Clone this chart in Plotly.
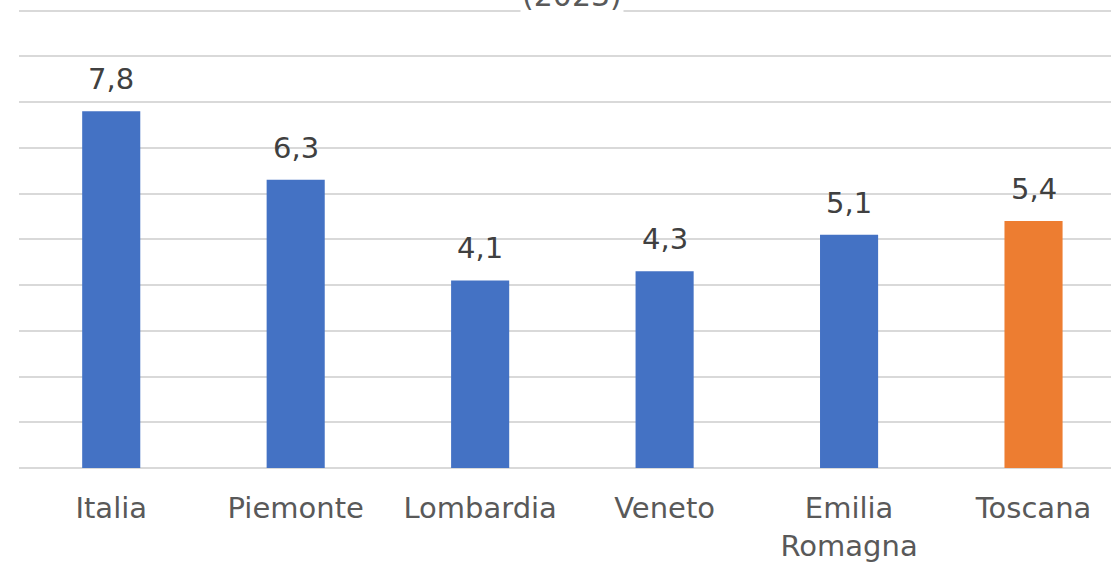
import plotly.graph_objects as go

# ================= DATA =================
regioni = ["Italia", "Piemonte", "Lombardia", "Veneto", "Emilia<br>Romagna", "Toscana"]
valori = [7.8, 6.3, 4.1, 4.3, 5.1, 5.4]
colori = ["#4472C4", "#4472C4", "#4472C4", "#4472C4", "#4472C4", "#ED7D31"]
titolo = "(2023)"

FONT = "DejaVu Sans"
GREY = "#595959"

fig = go.Figure()

fig.add_trace(
    go.Bar(
        x=regioni,
        y=valori,
        marker=dict(color=colori, line=dict(width=0)),
        width=0.315,
        hoverinfo="x+y",
    )
)

# data labels above the bars
for r, v in zip(regioni, valori):
    fig.add_annotation(
        x=r, y=v,
        text=f"{v:.1f}".replace(".", ","),
        showarrow=False,
        yanchor="bottom",
        yshift=13,
        font=dict(family=FONT, size=29, color="#404040"),
    )

# title, cut at the top edge
fig.add_annotation(
    x=0.506, y=1, xref="paper", yref="paper",
    text=titolo,
    showarrow=False,
    xanchor="center", yanchor="bottom",
    yshift=-15,
    bgcolor="white",
    font=dict(family=FONT, size=30, color=GREY),
)

fig.update_layout(
    width=1111,
    height=564,
    paper_bgcolor="white",
    plot_bgcolor="white",
    margin=dict(l=19, r=0, t=0, b=96),
    showlegend=False,
    separators=",.",
    xaxis=dict(
        range=[-0.5, 5.42],
        showgrid=False,
        ticks="",
        ticklabelstandoff=20,
        tickfont=dict(family=FONT, size=29, color=GREY),
        showline=False,
    ),
    yaxis=dict(
        range=[0, 10.23],
        dtick=1,
        showticklabels=False,
        gridcolor="#D9D9D9",
        gridwidth=2,
        zeroline=True,
        zerolinecolor="#D9D9D9",
        zerolinewidth=2,
    ),
)

fig.write_html(
    "out.html",
    config={"displayModeBar": False},
    post_script="document.body.style.margin='0';",
)
